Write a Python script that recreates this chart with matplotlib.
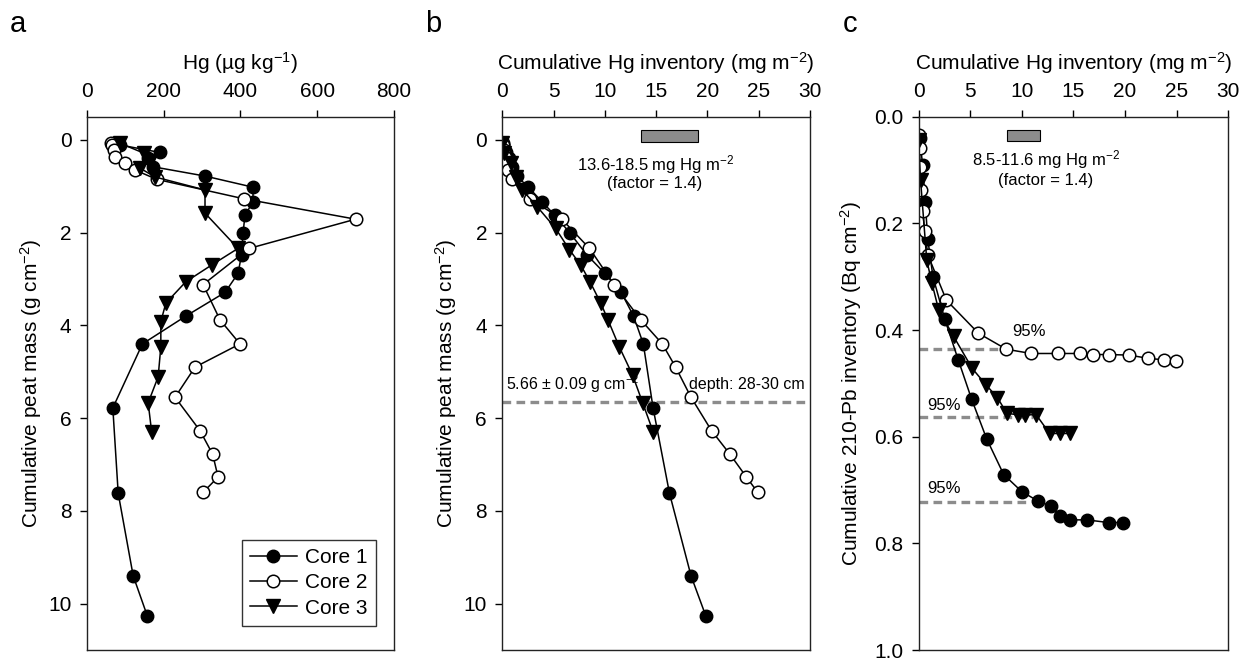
import matplotlib
matplotlib.use("Agg")
import matplotlib.pyplot as plt
from matplotlib.patches import Rectangle

plt.rcParams['font.family'] = ['Liberation Sans', 'DejaVu Sans']
plt.rcParams['mathtext.fontset'] = 'custom'
plt.rcParams['mathtext.rm'] = 'Liberation Sans'
plt.rcParams['mathtext.it'] = 'Liberation Sans:italic'
plt.rcParams['mathtext.bf'] = 'Liberation Sans:bold'

# panel a: Hg concentration vs cumulative peat mass
c1_mass = [0.11, 0.27, 0.40, 0.58, 0.78, 1.02, 1.33, 1.63, 2.01, 2.48, 2.88, 3.29, 3.80, 4.40, 5.78, 7.62, 9.40, 10.27]
c1_hg = [87, 190, 160, 173, 308, 433, 433, 412, 407, 403, 394, 360, 258, 145, 68, 82, 121, 158]
c2_mass = [0.06, 0.12, 0.22, 0.36, 0.49, 0.65, 0.85, 1.27, 1.71, 2.34, 3.12, 3.88, 4.40, 4.90, 5.55, 6.27, 6.78, 7.27, 7.60]
c2_hg = [62, 66, 70, 74, 100, 126, 182, 409, 700, 423, 303, 347, 399, 282, 230, 295, 328, 342, 303]
c3a_mass = [0.07, 0.29, 0.45, 0.61, 0.80, 1.08, 1.58, 2.34, 2.70, 3.06, 3.52, 3.92, 4.46, 5.11, 5.67, 6.29]
c3a_hg = [86, 150, 165, 139, 178, 308, 308, 394, 325, 258, 206, 193, 193, 186, 160, 169]

# panel b/c: cumulative Hg inventory
c1_inv = [0.1, 0.4, 0.65, 0.9, 1.4, 2.55, 3.85, 5.15, 6.6, 8.25, 10.0, 11.6, 12.8, 13.75, 14.7, 16.3, 18.4, 19.85]
c2_inv = [0.05, 0.1, 0.15, 0.25, 0.4, 0.6, 0.9, 2.7, 5.8, 8.5, 10.9, 13.5, 15.6, 16.9, 18.4, 20.4, 22.2, 23.8, 24.9]
c3_mass = [0.07, 0.29, 0.50, 0.79, 1.08, 1.44, 1.91, 2.37, 2.70, 3.06, 3.52, 3.88, 4.46, 5.07, 5.68, 6.29]
c3_inv = [0.0, 0.2, 0.8, 1.3, 1.95, 3.4, 5.2, 6.55, 7.65, 8.55, 9.6, 10.3, 11.4, 12.7, 13.7, 14.7]

# panel c: cumulative 210-Pb inventory
c1_pb = [0.04, 0.09, 0.16, 0.23, 0.30, 0.38, 0.456, 0.530, 0.604, 0.671, 0.703, 0.721, 0.730, 0.749, 0.756, 0.756, 0.761, 0.761]
c2_pb = [0.034, 0.059, 0.094, 0.137, 0.176, 0.214, 0.259, 0.344, 0.406, 0.436, 0.444, 0.444, 0.444, 0.446, 0.446, 0.447, 0.453, 0.456, 0.4575]
c3_pb = [0.044, 0.119, 0.269, 0.312, 0.362, 0.412, 0.472, 0.503, 0.527, 0.556, 0.559, 0.559, 0.559, 0.594, 0.594, 0.594]

pb95 = [0.723, 0.436, 0.564]   # core 1, 2, 3
pb95_end = [10.8, 8.1, 11.1]
ref_mass = 5.66

fig = plt.figure(figsize=(12.55, 6.59), dpi=100)
W, H = 1255, 659
def box(x0, x1):
    return [x0 / W, 1 - 650 / H, (x1 - x0) / W, (650 - 116.7) / H]

axa = fig.add_axes(box(86.7, 394))
axb = fig.add_axes(box(502.3, 810))
axc = fig.add_axes(box(918.5, 1228.3))

ms = 9
st1 = dict(color='black', marker='o', ms=ms, mfc='black', mec='black', lw=1.1, label='Core 1')
st2 = dict(color='black', marker='o', ms=ms, mfc='white', mec='black', mew=1.1, lw=1.1, label='Core 2')
st3 = dict(color='black', marker='v', ms=ms + 1, mfc='black', mec='black', lw=1.1, label='Core 3')
dash = dict(color='#8c8c8c', lw=2.4, dashes=(2.6, 1.6))

for ax in (axa, axb, axc):
    ax.xaxis.set_ticks_position('top')
    ax.xaxis.set_label_position('top')
    ax.tick_params(axis='both', direction='out', length=5, width=1, labelsize=15, pad=6)
    ax.tick_params(axis='y', right=False)
    ax.tick_params(axis='x', bottom=False)
    for s in ax.spines.values():
        s.set_linewidth(1.0)
        s.set_color('#222222')

# a
axa.plot(c1_hg, c1_mass, **st1)
axa.plot(c2_hg, c2_mass, **st2)
axa.plot(c3a_hg, c3a_mass, **st3)
axa.set_xlim(0, 800)
axa.set_ylim(11, -0.5)
axa.set_xticks([0, 200, 400, 600, 800])
axa.set_yticks([0, 2, 4, 6, 8, 10])
axa.set_xlabel('Hg (µg kg$^{-1}$)', fontsize=15, labelpad=9)
axa.set_ylabel('Cumulative peat mass (g cm$^{-2}$)', fontsize=15, labelpad=3)
leg = axa.legend(loc='lower right', bbox_to_anchor=(0.9414, 0.045), borderaxespad=0,
                 fontsize=15, frameon=True, fancybox=False, handlelength=2.25,
                 handletextpad=0.4, labelspacing=0.3, borderpad=0.4)
leg.get_frame().set_edgecolor('black')
leg.get_frame().set_linewidth(1.0)

# b
axb.axhline(ref_mass, **dash)
axb.plot(c1_inv, c1_mass, **st1)
axb.plot(c2_inv, c2_mass, **st2)
axb.plot(c3_inv, c3_mass, **st3)
axb.set_xlim(0, 30)
axb.set_ylim(11, -0.5)
axb.set_xticks([0, 5, 10, 15, 20, 25, 30])
axb.set_yticks([0, 2, 4, 6, 8, 10])
axb.set_xlabel('Cumulative Hg inventory (mg m$^{-2}$)', fontsize=15, labelpad=9)
axb.set_ylabel('Cumulative peat mass (g cm$^{-2}$)', fontsize=15, labelpad=3)
axb.add_patch(Rectangle((13.5, -0.21), 5.6, 0.25, facecolor='#8c8c8c', edgecolor='black', lw=0.8))
axb.text(14.9, 0.54, '13.6-18.5 mg Hg m$^{-2}$', fontsize=12, ha='center', va='center')
axb.text(14.9, 0.93, '(factor = 1.4)', fontsize=12, ha='center', va='center')
axb.text(0.4, 5.27, '5.66 ± 0.09 g cm$^{-2}$', fontsize=11.5, ha='left', va='center')
axb.text(29.5, 5.27, 'depth: 28-30 cm', fontsize=11.5, ha='right', va='center')

# c
for y, xe in zip(pb95, pb95_end):
    axc.plot([0, xe], [y, y], **dash)
axc.plot(c1_inv, c1_pb, **st1)
axc.plot(c2_inv, c2_pb, **st2)
axc.plot(c3_inv, c3_pb, **st3)
axc.set_xlim(0, 30)
axc.set_ylim(1.0, 0.0)
axc.set_xticks([0, 5, 10, 15, 20, 25, 30])
axc.set_yticks([0.0, 0.2, 0.4, 0.6, 0.8, 1.0])
axc.set_yticklabels(['0.0', '0.2', '0.4', '0.6', '0.8', '1.0'])
axc.set_xlabel('Cumulative Hg inventory (mg m$^{-2}$)', fontsize=15, labelpad=9)
axc.set_ylabel('Cumulative 210-Pb inventory (Bq cm$^{-2}$)', fontsize=15, labelpad=7)
axc.add_patch(Rectangle((8.6, 0.025), 3.2, 0.02, facecolor='#8c8c8c', edgecolor='black', lw=0.8))
axc.text(12.3, 0.081, '8.5-11.6 mg Hg m$^{-2}$', fontsize=12, ha='center', va='center')
axc.text(12.3, 0.119, '(factor = 1.4)', fontsize=12, ha='center', va='center')
axc.text(10.7, 0.403, '95%', fontsize=12, ha='center', va='center')
axc.text(0.8, 0.541, '95%', fontsize=12, ha='left', va='center')
axc.text(0.8, 0.697, '95%', fontsize=12, ha='left', va='center')

fig.text(10 / W, 1 - 32 / H, 'a', fontsize=21)
fig.text(425 / W, 1 - 32 / H, 'b', fontsize=21)
fig.text(843 / W, 1 - 32 / H, 'c', fontsize=21)

fig.savefig('out.png', dpi=100)
